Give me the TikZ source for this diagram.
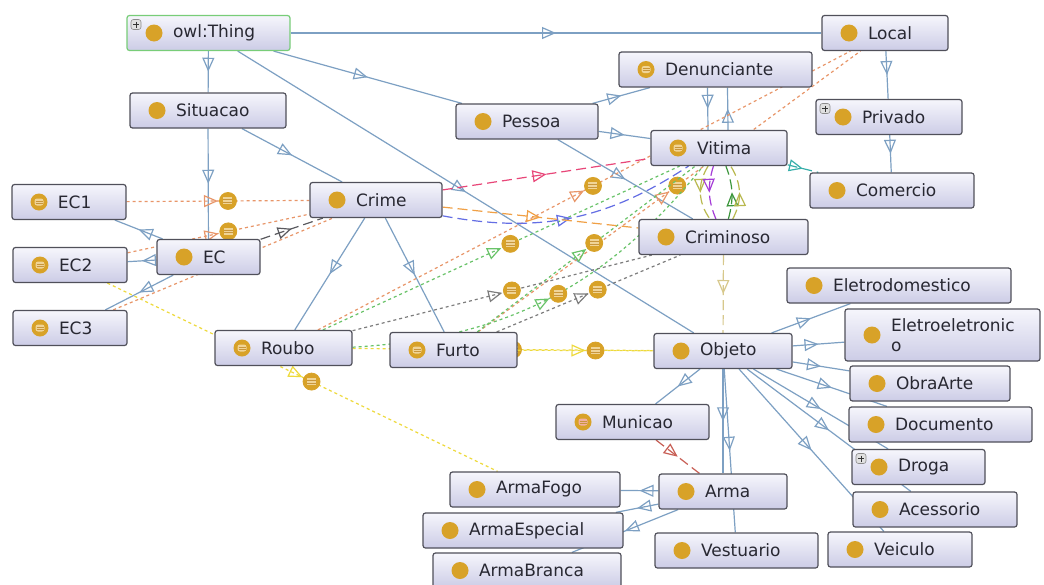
\documentclass[tikz,border=0pt]{standalone}
\usepackage{fontspec}
\setmainfont{DejaVu Sans}
\usepackage{tikz}
\usetikzlibrary{arrows.meta}
\usetikzlibrary{decorations.markings}
\definecolor{boxtop}{RGB}{246,246,252}
\definecolor{boxbot}{RGB}{204,204,230}
\definecolor{boxline}{RGB}{80,80,90}
\definecolor{textcol}{RGB}{40,40,50}
\definecolor{thingline}{RGB}{120,205,120}
\definecolor{gold}{RGB}{216,162,40}
\definecolor{eqin}{RGB}{240,212,150}
\definecolor{eqpink}{RGB}{242,175,160}
\definecolor{eqline}{RGB}{200,150,60}
\definecolor{isacol}{RGB}{125,160,195}
\definecolor{dotorange}{RGB}{232,150,105}
\definecolor{dotgreen}{RGB}{105,195,105}
\definecolor{dotgray}{RGB}{125,125,125}
\definecolor{dotyellow}{RGB}{238,218,60}
\definecolor{dashpink}{RGB}{232,70,120}
\definecolor{dashblue}{RGB}{100,110,228}
\definecolor{dashorange}{RGB}{240,160,70}
\definecolor{dashgray}{RGB}{90,90,95}
\definecolor{dashtan}{RGB}{215,200,140}
\definecolor{dashpurple}{RGB}{165,60,215}
\definecolor{dashgreen}{RGB}{60,150,60}
\definecolor{dasholive}{RGB}{185,185,80}
\definecolor{dashteal}{RGB}{55,175,170}
\definecolor{dashred}{RGB}{200,95,85}
\pgfdeclarelayer{edges}
\pgfsetlayers{edges,main}
\newcommand{\eqglyph}[1]{\makebox[9pt]{\rlap{\textcolor{#1}{\rule[-3.5pt]{9pt}{7pt}}}\rlap{\textcolor{eqline}{\rule[1pt]{9pt}{0.7pt}}}\textcolor{eqline}{\rule[-1.7pt]{9pt}{0.7pt}}}}

\begin{document}
\begin{tikzpicture}[x=1pt,y=-1pt]
\tikzstyle{box}=[draw=boxline, line width=1.2pt, rounded corners=2.5pt, top color=boxtop, bottom color=boxbot, minimum height=35pt, inner xsep=4pt, inner ysep=2pt, align=left, text=textcol, font=\fontsize{17}{20}\selectfont, execute at begin node=\hspace*{42pt}]
\tikzstyle{cls}=[box, path picture={\fill[gold] ([xshift=27pt]path picture bounding box.west) circle[radius=8.5pt];}]
\tikzstyle{clsplus}=[box, path picture={\fill[gold] ([xshift=27pt]path picture bounding box.west) circle[radius=8.5pt];
  \filldraw[fill=black!12, draw=black!45, line width=0.6pt] ([xshift=4pt,yshift=-4pt]path picture bounding box.north west) rectangle ([xshift=14pt,yshift=-14pt]path picture bounding box.north west);
  \draw[black!80, line width=0.9pt] ([xshift=6pt,yshift=-9pt]path picture bounding box.north west) -- ++(6pt,0pt) ([xshift=9pt,yshift=-6pt]path picture bounding box.north west) -- ++(0pt,-6pt);}]
\tikzstyle{ind}=[box, path picture={\fill[gold] ([xshift=27pt]path picture bounding box.west) circle[radius=8.5pt];
  \fill[#1] ([xshift=22.5pt,yshift=-3.5pt]path picture bounding box.west) rectangle ([xshift=31.5pt,yshift=3.5pt]path picture bounding box.west);
  \draw[eqline, line width=0.6pt] ([xshift=23.5pt,yshift=1.2pt]path picture bounding box.west) -- ++(7pt,0pt) ([xshift=23.5pt,yshift=-1.2pt]path picture bounding box.west) -- ++(7pt,0pt);}]
\tikzstyle{eqdot}=[circle, solid, fill=gold, draw=gold, line width=0.8pt, inner sep=0pt, minimum size=17pt]
\tikzstyle{isa}=[draw=isacol, line width=1.2pt, postaction={decorate}, decoration={markings, mark=at position 0.5 with {\arrow{Triangle[open, length=14pt, width=12pt]}}}]
\tikzstyle{indv}=[draw=#1, line width=1.2pt, dash pattern=on 3pt off 3pt, postaction={decorate}, decoration={markings, mark=at position 0.5 with {\arrow{Triangle[open, length=14pt, width=12pt]} \node[eqdot] at (10pt,0pt) {\eqglyph{eqin}};}}]
\tikzstyle{rel}=[draw=#1, line width=1.2pt, dash pattern=on 10pt off 5pt, postaction={decorate}, decoration={markings, mark=at position 0.5 with {\arrow{Triangle[open, length=14pt, width=12pt]}}}]
\useasboundingbox (0,0) rectangle (1044,584);

\node[clsplus, draw=thingline, minimum width=163pt, text width=155pt] (thing) at (208.5,33) {owl:Thing};
\node[cls, minimum width=156pt, text width=148pt] (situacao) at (208,110.5) {Situacao};
\node[cls, minimum width=126pt, text width=118pt] (local) at (885,33) {Local};
\node[ind=eqin, minimum width=193pt, text width=185pt] (denunciante) at (715.5,69.5) {Denunciante};
\node[cls, minimum width=142pt, text width=134pt] (pessoa) at (527,121.5) {Pessoa};
\node[clsplus, minimum width=146pt, text width=138pt] (privado) at (889,117) {Privado};
\node[ind=eqin, minimum width=136pt, text width=128pt] (vitima) at (719,148) {Vitima};
\node[cls, minimum width=164pt, text width=156pt] (comercio) at (892,190.5) {Comercio};
\node[ind=eqin, minimum width=114pt, text width=106pt] (ec1) at (69,202) {EC1};
\node[ind=eqin, minimum width=114pt, text width=106pt] (ec2) at (70,265) {EC2};
\node[ind=eqin, minimum width=114pt, text width=106pt] (ec3) at (70,328) {EC3};
\node[cls, minimum width=103pt, text width=95pt] (ec) at (208.5,257) {EC};
\node[cls, minimum width=132pt, text width=124pt] (crime) at (376,200) {Crime};
\node[ind=eqin, minimum width=137pt, text width=129pt] (roubo) at (283.5,348) {Roubo};
\node[ind=eqin, minimum width=127pt, text width=119pt] (furto) at (453.5,350) {Furto};
\node[cls, minimum width=169pt, text width=161pt] (criminoso) at (723.5,237) {Criminoso};
\node[cls, minimum width=138pt, text width=130pt] (objeto) at (723,351) {Objeto};
\node[cls, minimum width=224pt, text width=216pt] (eletrodomestico) at (899,285.5) {Eletrodomestico};
\node[cls, minimum width=195pt, text width=187pt, minimum height=52pt] (eletroeletronico) at (942.5,335) {Eletroeletronic\\\hspace*{42pt}o};
\node[cls, minimum width=160pt, text width=152pt] (obraarte) at (930,383.5) {ObraArte};
\node[cls, minimum width=183pt, text width=175pt] (documento) at (940.5,424.5) {Documento};
\node[clsplus, minimum width=133pt, text width=125pt] (droga) at (918.5,467) {Droga};
\node[cls, minimum width=164pt, text width=156pt] (acessorio) at (935,509.5) {Acessorio};
\node[cls, minimum width=144pt, text width=136pt] (veiculo) at (900,549.5) {Veiculo};
\node[cls, minimum width=163pt, text width=155pt] (vestuario) at (736.5,550.5) {Vestuario};
\node[cls, minimum width=128pt, text width=120pt] (arma) at (723,491.5) {Arma};
\node[ind=eqpink, minimum width=153pt, text width=145pt] (municao) at (632.5,422) {Municao};
\node[cls, minimum width=170pt, text width=162pt] (armafogo) at (535,489.5) {ArmaFogo};
\node[cls, minimum width=200pt, text width=192pt] (armaespecial) at (523,530.5) {ArmaEspecial};
\node[cls, minimum width=188pt, text width=180pt] (armabranca) at (527,570.5) {ArmaBranca};

\begin{pgfonlayer}{edges}
\fill[white] (0,0) rectangle (1044,584);
\draw[isa] (thing) -- (situacao);
\draw[isa] (thing) -- (local);
\draw[isa] (thing) -- (pessoa);
\draw[isa] (thing) -- (objeto);
\draw[isa] (situacao) -- (ec);
\draw[isa] (situacao) -- (crime);
\draw[isa] (ec) -- (ec1);
\draw[isa] (ec) -- (ec2);
\draw[isa] (ec) -- (ec3);
\draw[isa] (crime) -- (roubo);
\draw[isa] (crime) -- (furto);
\draw[isa] (pessoa) -- (denunciante);
\draw[isa] (pessoa) -- (vitima);
\draw[isa] (pessoa) -- (criminoso);
\draw[isa] ([xshift=-8pt]denunciante.south) -- ([xshift=-11pt]vitima.north);
\draw[isa] ([xshift=9pt]vitima.north) -- ([xshift=12pt]denunciante.south);
\draw[isa] (local) -- (privado);
\draw[isa] (privado) -- (comercio);
\draw[isa] (objeto) -- (municao);
\draw[isa] (objeto) -- (arma);
\draw[isa] (objeto) -- (vestuario);
\draw[isa] (objeto) -- (eletrodomestico);
\draw[isa] (objeto) -- (eletroeletronico);
\draw[isa] (objeto) -- (obraarte);
\draw[isa] (objeto) -- (documento);
\draw[isa] (objeto) -- (droga);
\draw[isa] (objeto) -- (acessorio);
\draw[isa] (objeto) -- (veiculo);
\draw[isa] (arma) -- (armafogo);
\draw[isa] (arma) -- (armaespecial);
\draw[isa] (arma) -- (armabranca);
\draw[indv=dotorange] (ec1) -- (crime);
\draw[indv=dotorange] (ec2) -- (crime);
\draw[indv=dotorange] (ec3) -- (crime);
\draw[indv=dotyellow] (ec2) -- (armafogo);
\draw[indv=dotyellow] (roubo) -- (objeto);
\draw[indv=dotyellow] (furto) -- (objeto);
\draw[indv=dotorange] (roubo) -- (local);
\draw[indv=dotorange] (furto) -- (local);
\draw[indv=dotgreen] (roubo) -- (vitima);
\draw[indv=dotgreen] (roubo) to[bend right=24] (vitima);
\draw[indv=dotgreen] (furto) -- (vitima);
\draw[indv=dotgray] (roubo) -- (criminoso);
\draw[indv=dotgray] (furto) -- (criminoso);
\draw[rel=dashgray] (ec) -- (crime);
\draw[rel=dashpink] (crime) -- (vitima);
\draw[rel=dashblue] (crime) to[bend right=22] (vitima);
\draw[rel=dashorange] (crime) -- (criminoso);
\draw[rel=dashtan] (criminoso) -- (objeto);
\draw[rel=dashteal] (vitima) -- (comercio);
\draw[rel=dashred] (municao) -- (arma);
\draw[rel=dasholive] (vitima) to[bend right=34] (criminoso);
\draw[rel=dashpurple] (vitima) to[bend right=20] (criminoso);
\draw[rel=dashgreen] (criminoso) to[bend right=18] (vitima);
\draw[rel=dasholive] (criminoso) to[bend right=30] (vitima);
\end{pgfonlayer}
\end{tikzpicture}
\end{document}
